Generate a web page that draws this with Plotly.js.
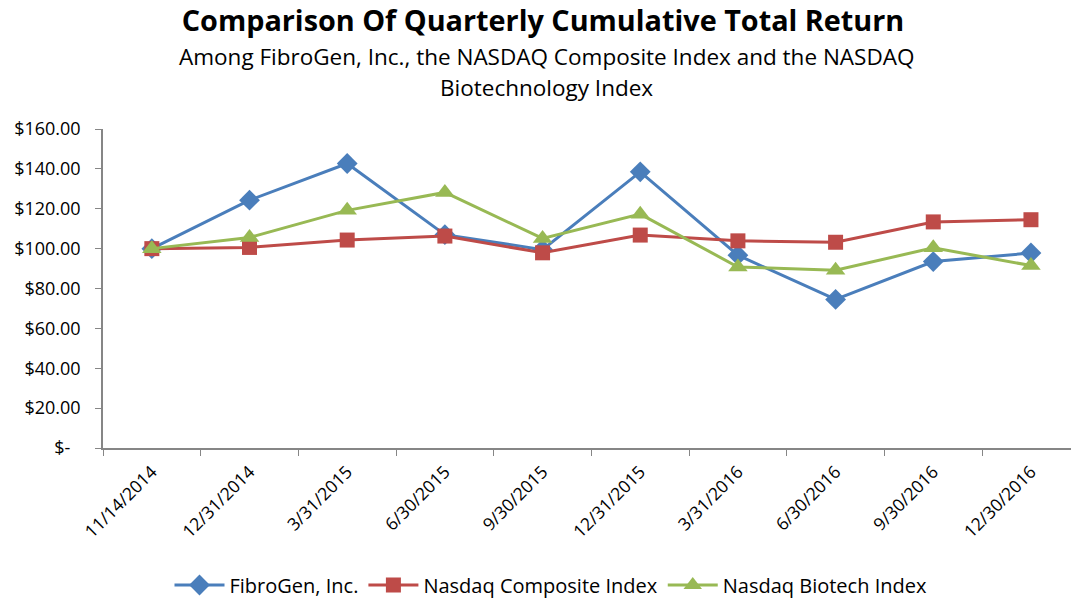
<!DOCTYPE html>
<html><head><meta charset="utf-8">
<script src="https://cdn.plot.ly/plotly-3.0.1.min.js"></script>
<style>html,body{margin:0;padding:0;background:#fff}#chart{width:1071px;height:600px}</style>
</head><body><div id="chart"></div>
<script>
var dates = ["11/14/2014","12/31/2014","3/31/2015","6/30/2015","9/30/2015","12/31/2015","3/31/2016","6/30/2016","9/30/2016","12/30/2016"];
var fibrogen = [100, 124.3, 142.7, 107, 99.5, 138.5, 96.7, 74.5, 93.5, 97.8];
var nasdaqComposite = [100, 100.6, 104.3, 106.3, 97.9, 106.8, 103.9, 103.2, 113.4, 114.5];
var nasdaqBiotech = [100, 105.6, 119.2, 128.2, 105.1, 117.3, 90.8, 89.2, 100.4, 91.5];
var yTickVals = [0,20,40,60,80,100,120,140,160];
var yTickText = ["$-\u2007","$20.00","$40.00","$60.00","$80.00","$100.00","$120.00","$140.00","$160.00"];
var titleText = "Comparison Of Quarterly Cumulative Total Return";
var subtitleLines = ["Among FibroGen, Inc., the NASDAQ Composite Index and the NASDAQ", "Biotechnology Index"];

var font = "'Open Sans', Lato, sans-serif";
var traces = [
  {x: dates, y: fibrogen, name: "FibroGen, Inc.", type: "scatter", mode: "lines+markers",
   line: {color: "#4A7EBB", width: 3}, marker: {symbol: "diamond", size: 16, color: "#4A7EBB"}},
  {x: dates, y: nasdaqComposite, name: "Nasdaq Composite Index", type: "scatter", mode: "lines+markers",
   line: {color: "#BE4B48", width: 3}, marker: {symbol: "square", size: 15, color: "#BE4B48"}},
  {x: dates, y: nasdaqBiotech, name: "Nasdaq Biotech Index", type: "scatter", mode: "lines+markers",
   line: {color: "#98B954", width: 3}, marker: {symbol: "triangle-up", size: 17, color: "#98B954"}}
];
var layout = {
  width: 1071, height: 600,
  paper_bgcolor: "#fff", plot_bgcolor: "#fff",
  margin: {l: 103, r: 0, t: 129, b: 152},
  font: {family: font, color: "#000", size: 16},
  title: {text: "<b>" + titleText + "</b>", x: 543/1071, xanchor: "center",
          y: 1 - 21/600, yanchor: "middle", xref: "container", yref: "container",
          font: {family: font, size: 28.8, color: "#000"}},
  annotations: [
    {text: subtitleLines[0], xref: "paper", yref: "paper", x: (546-103)/968, y: 1 + (129-57)/319,
     xanchor: "center", yanchor: "middle", showarrow: false, font: {family: font, size: 22.5, color: "#000"}},
    {text: subtitleLines[1], xref: "paper", yref: "paper", x: (546-103)/968, y: 1 + (129-88)/319,
     xanchor: "center", yanchor: "middle", showarrow: false, font: {family: font, size: 22.5, color: "#000"}}
  ],
  xaxis: {type: "category", range: [-0.5, 9.41], showgrid: false, zeroline: false,
          showline: true, linecolor: "#868686", linewidth: 1.5,
          ticks: "outside", ticklen: 6, tickcolor: "#868686", tickson: "boundaries", ticklabelstandoff: 5,
          tickangle: -45, tickfont: {family: font, size: 17.5, color: "#000"}},
  yaxis: {range: [0, 160], tickvals: yTickVals, ticktext: yTickText, showgrid: false, zeroline: false,
          showline: true, linecolor: "#868686", linewidth: 1.5,
          ticks: "outside", ticklen: 6, tickcolor: "#868686", ticklabelstandoff: 11,
          tickfont: {family: font, size: 18, color: "#000"}},
  showlegend: true,
  legend: {orientation: "h", x: 551/1071, xanchor: "center", xref: "container", y: 15/600, yanchor: "middle", yref: "container",
           font: {family: font, size: 20, color: "#000"}, itemwidth: 50, tracegroupgap: 0}
};
Plotly.newPlot("chart", traces, layout, {displayModeBar: false, responsive: false});
</script></body></html>
